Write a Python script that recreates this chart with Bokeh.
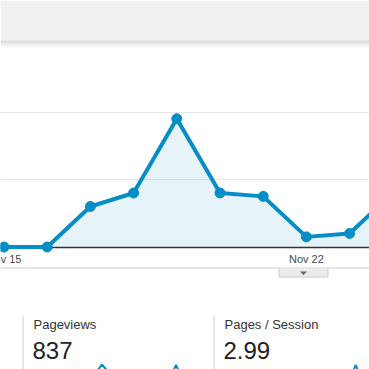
from bokeh.plotting import figure
from bokeh.models import Range1d
from bokeh.core.properties import value
from bokeh.embed import file_html
from bokeh.resources import INLINE

# ---------------- data ----------------
days = ["Nov 14", "Nov 15", "Nov 16", "Nov 17", "Nov 18", "Nov 19",
        "Nov 20", "Nov 21", "Nov 22", "Nov 23", "Nov 24"]
sessions = [0, 0, 0, 12, 16, 38, 16, 15, 3, 4, 16]
tick_labels = ["Nov 15", "Nov 22"]
grid_values = [20, 40]

metric_names = ["Pageviews", "Pages / Session"]
metric_values = ["837", "2.99"]
pageviews_spark = [0.3, 0.35, 0.2, 0.25, 0.4, 0.3, 0.2, 0.3, 0.45, 0.4, 0.5, 0.7,
                   1.0, 0.75, 0.5, 0.4, 0.3, 0.35, 0.5, 0.4, 0.3, 0.35, 0.3, 0.4,
                   0.5, 0.98, 0.5, 0.4, 0.3, 0.35]
pages_session_spark = [0.4, 0.3, 0.35, 0.5, 0.45, 0.3, 0.4, 0.35, 0.3, 0.5, 0.4, 0.45,
                       0.3, 0.35, 0.4, 0.5, 0.3, 0.35, 0.4, 0.3, 0.45, 0.5, 0.4,
                       0.98, 0.5]

# ---------------- layout constants (pixels) ----------------
W = H = 369
DAY0_PX = -39.7      # pixel x of first day
DAY_STEP = 43.2
BASE_PX = 246.5      # pixel y of value 0
PX_PER_UNIT = 3.375
SPARK_STEP = 5.7
SPARK0_PX = 390.0
SPARK1_PX = 364.0
FONT = value("Liberation Sans")
BLUE = "#058dc7"

p = figure(width=W, height=H, output_backend="svg", toolbar_location=None,
           x_range=Range1d(0, W), y_range=Range1d(H, 0),
           x_axis_type=None, y_axis_type=None, min_border=0,
           outline_line_color=None, background_fill_color="white",
           border_fill_color="white")
p.grid.visible = False

p.extra_x_ranges = {
    "days": Range1d((0 - DAY0_PX) / DAY_STEP, (W - DAY0_PX) / DAY_STEP),
    "spark_pv": Range1d((0 - 33) / SPARK_STEP, (W - 33) / SPARK_STEP),
    "spark_ps": Range1d((0 - 224) / SPARK_STEP, (W - 224) / SPARK_STEP),
}
p.extra_y_ranges = {
    "sessions": Range1d((BASE_PX - H) / PX_PER_UNIT, BASE_PX / PX_PER_UNIT),
    "spark": Range1d((SPARK0_PX - H) / (SPARK0_PX - SPARK1_PX),
                     SPARK0_PX / (SPARK0_PX - SPARK1_PX)),
}

# ---------------- header bar ----------------
p.quad(left=[0], right=[W], top=[0], bottom=[40], fill_color="#f1f1f1", line_color=None)
p.quad(left=[0], right=[W], top=[40], bottom=[42], fill_color="#dcdcdc", line_color=None)
for i, a in enumerate([0.10, 0.08, 0.06, 0.045, 0.03, 0.02, 0.01]):
    p.quad(left=[0], right=[W], top=[42 + i], bottom=[43 + i],
           fill_color="black", fill_alpha=a, line_color=None)

# ---------------- main chart ----------------
xi = list(range(len(days)))
p.hspan(y=grid_values, y_range_name="sessions", line_color="#e5e5e5", line_width=1)
p.varea(x=xi, y1=[0] * len(xi), y2=sessions, x_range_name="days",
        y_range_name="sessions", fill_color=BLUE, fill_alpha=0.1)
p.hspan(y=[0], y_range_name="sessions", line_color="#333333", line_width=1.5)
p.line(xi, sessions, x_range_name="days", y_range_name="sessions",
       line_color=BLUE, line_width=4, line_join="round")
p.scatter(xi, sessions, x_range_name="days", y_range_name="sessions",
          size=10, fill_color=BLUE, line_color=BLUE)

tick_x = [days.index(t) for t in tick_labels]
p.text(x=tick_x, y=[258.5] * len(tick_x), text=tick_labels, x_range_name="days",
       text_font=FONT, text_font_size="11px", text_align="center",
       text_baseline="alphabetic", text_color="#4a4a4a")

# separator line and tab
p.segment(x0=[0], y0=[267.5], x1=[W], y1=[267.5], line_color="#cccccc", line_width=1)
p.quad(left=[278.5], right=[327.5], top=[267.5], bottom=[276.5],
       fill_color="#ececec", line_color="#cccccc", line_width=1)
p.segment(x0=[279], y0=[267.5], x1=[327], y1=[267.5], line_color="#f4f4f4", line_width=1)
p.patch(x=[299.5, 306.5, 303], y=[271, 271, 274.5], fill_color="#666666", line_color=None)

# ---------------- metric panels ----------------
p.segment(x0=[22.5, 213.5], y0=[315, 315], x1=[22.5, 213.5], y1=[H, H],
          line_color="#cccccc", line_width=1)
p.text(x=[33, 224], y=[323.5, 323.5], text=metric_names, text_font=FONT,
       text_font_size="13px", text_baseline="alphabetic", text_color="#333333")
p.text(x=[32, 223], y=[349.5, 349.5], text=metric_values, text_font=FONT,
       text_font_size="24px", text_baseline="alphabetic", text_color="#222222")

p.line(list(range(len(pageviews_spark))), pageviews_spark, x_range_name="spark_pv",
       y_range_name="spark", line_color=BLUE, line_width=2)
p.line(list(range(len(pages_session_spark))), pages_session_spark, x_range_name="spark_ps",
       y_range_name="spark", line_color=BLUE, line_width=2)

open("out.html", "w").write(file_html(p, INLINE))
